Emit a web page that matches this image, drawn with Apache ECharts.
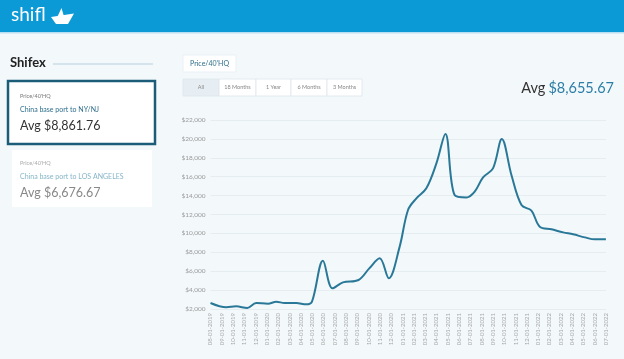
<!DOCTYPE html>
<html>
<head>
<meta charset="utf-8">
<script src="https://cdn.jsdelivr.net/npm/echarts@6/dist/echarts.min.js"></script>
<style>
html,body{margin:0;padding:0;background:#f3f8fb;}
#c{width:624px;height:359px;}
</style>
</head>
<body>
<div id="c"></div>
<script>
// ---- data ----
const monthLabels = [
  '08-01-2019','09-01-2019','10-01-2019','11-01-2019','12-01-2019',
  '01-01-2020','02-01-2020','03-01-2020','04-01-2020','05-01-2020','06-01-2020','07-01-2020',
  '08-01-2020','09-01-2020','10-01-2020','11-01-2020','12-01-2020',
  '01-01-2021','02-01-2021','03-01-2021','04-01-2021','05-01-2021','06-01-2021','07-01-2021',
  '08-01-2021','09-01-2021','10-01-2021','11-01-2021','12-01-2021',
  '01-01-2022','02-01-2022','03-01-2022','04-01-2022','05-01-2022','06-01-2022','07-01-2022'
];
// position of each price reading, in months since 08-01-2019
const pointMonths = [0, 1.39, 2.27, 3.25, 4.04, 5.08, 5.82, 6.55, 7.59, 8.47, 8.98, 9.95, 10.8, 11.72, 13.1, 14.05, 14.97, 15.78, 16.74, 17.48, 18.22, 19.1, 19.99, 20.79, 21.6, 22.65, 23.38, 24.12, 25.0, 25.78, 26.63, 27.52, 28.4, 29.14, 30.17, 31.21, 32.09, 33.13, 34.01, 34.99];
const pointValues = [2635, 2180, 2280, 2110, 2630, 2560, 2770, 2630, 2630, 2490, 2780, 7110, 4190, 4820, 5070, 6300, 7365, 5250, 8600, 12480, 13710, 14770, 17410, 20520, 14060, 13800, 14420, 15930, 16880, 19990, 16180, 13000, 12400, 10710, 10430, 10110, 9900, 9580, 9370, 9370];
const yTicks = { min: 2000, max: 22000, step: 2000 };
const avgMain = '$8,655.67';
const cards = [
  { label: "Price/40'HQ", route: 'China base port to NY/NJ', avg: 'Avg $8,861.76' },
  { label: "Price/40'HQ", route: 'China base port to LOS ANGELES', avg: 'Avg $6,676.67' }
];
const rangeButtons = ['All', '18 Months', '1 Year', '6 Months', '3 Months'];

// ---- chart ----
const chart = echarts.init(document.getElementById('c'), null, { renderer: 'canvas' });
const FONT = 'Lato, "Noto Sans", sans-serif';
const seriesData = pointMonths.map((m, i) => [m, pointValues[i]]);

const btnEdges = [183, 219, 256, 291, 327, 362];
const graphics = [
  // header
  { type: 'rect', shape: { x: 0, y: 0, width: 624, height: 32 }, style: { fill: '#0c9ad7' }, z: 1 },
  { type: 'rect', shape: { x: 0, y: 32, width: 624, height: 1.5 }, style: { fill: '#b9dff2' }, z: 1 },
  { type: 'text', x: 11, y: 15, style: { text: 'shifl', fill: '#ffffff', fontSize: 19, fontFamily: FONT, fontWeight: 'normal', verticalAlign: 'middle' }, z: 2 },
  { type: 'polygon', shape: { points: [[51, 17], [74, 13.5], [68, 24], [56, 24]] }, style: { fill: '#ffffff' }, z: 2 },
  { type: 'polygon', shape: { points: [[57, 17.5], [61.5, 8], [64, 16.5]] }, style: { fill: '#ffffff' }, z: 2 },
  // left panel
  { type: 'text', x: 10, y: 63, style: { text: 'Shifex', fill: '#222', fontSize: 13, fontWeight: 'bold', fontFamily: FONT, verticalAlign: 'middle' }, z: 2 },
  { type: 'line', shape: { x1: 53, y1: 64, x2: 153, y2: 64 }, style: { stroke: '#d5e3ec', lineWidth: 2 }, z: 2 },
  { type: 'rect', shape: { x: 8, y: 81, width: 147, height: 63 }, style: { fill: '#ffffff', stroke: '#1b5d79', lineWidth: 2.5 }, z: 2 },
  { type: 'text', x: 20, y: 96, style: { text: cards[0].label, fill: '#777', fontSize: 5.5, fontFamily: FONT, verticalAlign: 'middle' }, z: 3 },
  { type: 'text', x: 20, y: 109.5, style: { text: cards[0].route, fill: '#2e6f8c', fontSize: 7, fontFamily: FONT, verticalAlign: 'middle' }, z: 3 },
  { type: 'text', x: 20, y: 125.5, style: { text: cards[0].avg, fill: '#333', fontSize: 12.5, fontFamily: FONT, verticalAlign: 'middle' }, z: 3 },
  { type: 'rect', shape: { x: 12, y: 150, width: 140, height: 57 }, style: { fill: '#ffffff' }, z: 2 },
  { type: 'text', x: 20, y: 163, style: { text: cards[1].label, fill: '#aaa', fontSize: 5.5, fontFamily: FONT, verticalAlign: 'middle' }, z: 3 },
  { type: 'text', x: 20, y: 177, style: { text: cards[1].route, fill: '#86b5c9', fontSize: 7, fontFamily: FONT, verticalAlign: 'middle' }, z: 3 },
  { type: 'text', x: 20, y: 193, style: { text: cards[1].avg, fill: '#888', fontSize: 12.5, fontFamily: FONT, verticalAlign: 'middle' }, z: 3 },
  // price button
  { type: 'rect', shape: { x: 183, y: 55, width: 53, height: 17 }, style: { fill: '#ffffff', stroke: '#e6edf2', lineWidth: 0.8 }, z: 2 },
  { type: 'text', x: 209.5, y: 63.5, style: { text: "Price/40'HQ", fill: '#2e6f8c', fontSize: 7, fontFamily: FONT, align: 'center', verticalAlign: 'middle' }, z: 3 },
  // main avg
  { type: 'text', x: 614, y: 88, style: { text: '{a|Avg} {b|' + avgMain + '}', align: 'right', verticalAlign: 'middle', fontFamily: FONT,
      rich: { a: { fill: '#333', fontSize: 14.5, fontFamily: FONT }, b: { fill: '#2c7ea6', fontSize: 14.5, fontFamily: FONT } } }, z: 3 }
];
rangeButtons.forEach((t, i) => {
  graphics.push({ type: 'rect', shape: { x: btnEdges[i], y: 79, width: btnEdges[i + 1] - btnEdges[i], height: 17 },
    style: { fill: i === 0 ? '#e7eef3' : '#ffffff', stroke: '#dde6ec', lineWidth: 0.8 }, z: 2 });
  graphics.push({ type: 'text', x: (btnEdges[i] + btnEdges[i + 1]) / 2, y: 87.5,
    style: { text: t, fill: '#888', fontSize: 5.5, fontFamily: FONT, align: 'center', verticalAlign: 'middle' }, z: 3 });
});

chart.setOption({
  backgroundColor: '#f3f8fb',
  animation: false,
  graphic: graphics,
  grid: { left: 210.5, right: 18, top: 120, bottom: 50, containLabel: false },
  xAxis: {
    type: 'value', min: 0, max: monthLabels.length - 1, interval: 1,
    axisLine: { show: false }, axisTick: { show: false }, splitLine: { show: false },
    axisLabel: { rotate: 90, fontSize: 6, color: '#a8a8a8', fontFamily: FONT, margin: 4,
      formatter: v => monthLabels[Math.round(v)] || '' }
  },
  yAxis: {
    type: 'value', min: yTicks.min, max: yTicks.max, interval: yTicks.step,
    axisLine: { show: false }, axisTick: { show: false },
    splitLine: { lineStyle: { color: '#e6edf1', width: 1 } },
    axisLabel: { fontSize: 6.5, color: '#9a9a9a', fontFamily: FONT, margin: 5,
      formatter: v => '$' + v.toLocaleString('en-US') }
  },
  series: [{
    type: 'line', data: seriesData, smooth: 0.35, showSymbol: false,
    lineStyle: { color: '#2a7898', width: 2 }, itemStyle: { color: '#2a7898' }
  }]
});
</script>
</body>
</html>
